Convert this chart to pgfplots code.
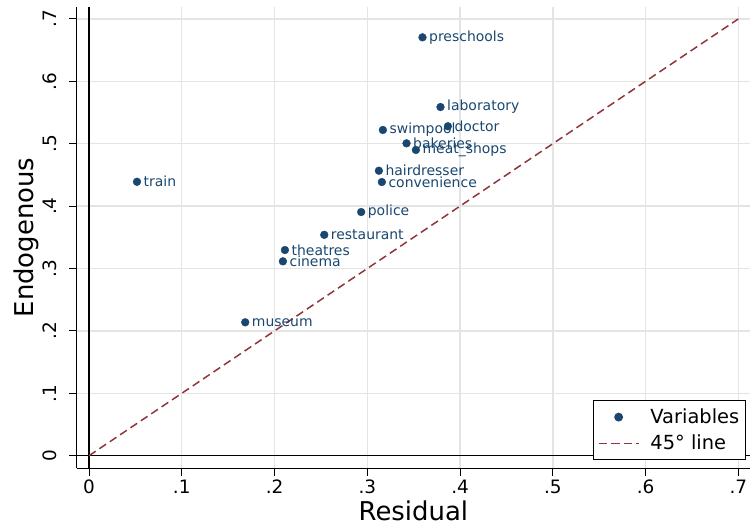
\documentclass[border=0pt]{standalone}
\usepackage{fontspec}
\setmainfont{DejaVu Sans}
\usepackage{pgfplots}
\pgfplotsset{compat=1.18}
\definecolor{navy}{HTML}{1A476F}
\definecolor{maroon}{HTML}{90353B}
\definecolor{gridgray}{HTML}{E4E4E4}
\begin{document}
\begin{tikzpicture}
\begin{axis}[
  scale only axis, width=673.3bp, height=461.6bp,
  xmin=-0.0133, xmax=0.7126, ymin=-0.0202, ymax=0.7196,
  axis x line*=bottom, axis y line*=left,
  axis line style={-, line width=1bp, black},
  xtick={0,0.1,0.2,0.3,0.4,0.5,0.6,0.7},
  xticklabels={0,.1,.2,.3,.4,.5,.6,.7},
  ytick={0,0.1,0.2,0.3,0.4,0.5,0.6,0.7},
  yticklabels={0,.1,.2,.3,.4,.5,.6,.7},
  /pgf/number format/assume math mode=true,
  tick align=outside, major tick length=7.5bp,
  major tick style={black, line width=1bp},
  xmajorgrids, ymajorgrids,
  major grid style={line width=1.4bp, draw=gridgray},
  ticklabel style={font=\fontsize{18.5}{22}\selectfont},
  xticklabel style={anchor=north, inner sep=0pt, yshift=-4bp},
  yticklabel style={rotate=90, anchor=south, inner xsep=0pt, inner ysep=12bp},
  every axis x label/.style={at={(axis description cs:0.5,-0.1120)}, anchor=base, font=\fontsize{26}{30}\selectfont},
  every axis y label/.style={at={(axis description cs:-0.06416,0.5)}, rotate=90, anchor=base, font=\fontsize{26}{30}\selectfont},
  xlabel={Residual}, ylabel={Endogenous},
  legend style={at={(rel axis cs:0.9936,0.018)}, anchor=south east, draw=black, line width=1bp, fill=white,
    font=\fontsize{19.5}{23}\selectfont, inner xsep=4bp, inner ysep=6bp, row sep=6bp, column sep=9bp,
    nodes={inner xsep=2bp, inner ysep=2bp}},
  legend cell align=left,
  legend image code/.code={\draw[mark repeat=2,mark phase=2,#1] plot coordinates {(0bp,0bp) (20bp,0bp) (40bp,0bp)};},
  clip=false,
]
\coordinate (sw) at (rel axis cs:0,0);
\coordinate (ne) at (rel axis cs:1,1);
\draw[black, line width=1.6bp] (axis cs:0,-0.0202) -- (axis cs:0,0.7196);
\draw[black, line width=1.6bp] (axis cs:-0.0133,0) -- (axis cs:0.7126,0);
\addplot[maroon, dash pattern=on 8bp off 4.5bp, line width=1.5bp, forget plot] coordinates {(0,0) (0.7,0.7)};
\addplot[only marks, mark=*, mark size=3.9bp, color=navy, mark options={draw=navy, fill=navy},
  nodes near coords, point meta=explicit symbolic,
  every node near coord/.style={anchor=west, inner sep=0pt, xshift=6.5bp, font=\fontsize{14}{16}\selectfont, text=navy}]
coordinates {
(0.0517,0.439) [train]
(0.3595,0.6705) [preschools]
(0.3789,0.5588) [laboratory]
(0.3869,0.528) [doctor]
(0.3168,0.522) [swimpool]
(0.3423,0.5006) [bakeries]
(0.3524,0.490) [meat\_shops]
(0.3125,0.4567) [hairdresser]
(0.3157,0.4386) [convenience]
(0.2934,0.3905) [police]
(0.2536,0.354) [restaurant]
(0.2112,0.3296) [theatres]
(0.2090,0.3115) [cinema]
(0.1684,0.2138) [museum]
};
\addlegendentry{Variables}
\addlegendimage{maroon, dash pattern=on 8bp off 4.5bp, line width=1.5bp}
\addlegendentry{45° line}
\end{axis}
\pgfresetboundingbox
\path[use as bounding box] ([shift={(-76.7bp,-60.7bp)}]sw) rectangle ([shift={(1bp,6.7bp)}]ne);
\end{tikzpicture}
\end{document}
